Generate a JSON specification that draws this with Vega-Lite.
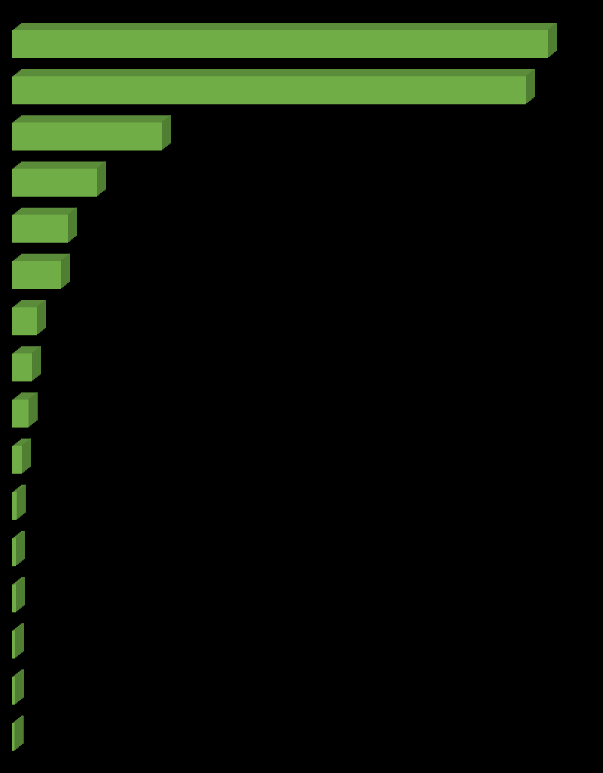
{
  "$schema": "https://vega.github.io/schema/vega-lite/v6.json",
  "width": 591,
  "height": 739,
  "autosize": {"type": "none"},
  "padding": {"top": 21, "left": 12, "right": 0, "bottom": 13},
  "background": "#000000",
  "config": {"view": {"stroke": null}},
  "data": {"values": [
    {"cat": "A", "v": 536},
    {"cat": "B", "v": 514},
    {"cat": "C", "v": 150},
    {"cat": "D", "v": 85},
    {"cat": "E", "v": 56},
    {"cat": "F", "v": 49},
    {"cat": "G", "v": 25},
    {"cat": "H", "v": 20},
    {"cat": "I", "v": 16.5},
    {"cat": "J", "v": 10},
    {"cat": "K", "v": 4.7},
    {"cat": "L", "v": 4},
    {"cat": "M", "v": 4},
    {"cat": "N", "v": 3},
    {"cat": "O", "v": 3},
    {"cat": "P", "v": 2.5}
  ]},
  "encoding": {
    "y": {"field": "cat", "type": "nominal", "sort": null, "axis": null,
          "scale": {"paddingInner": 0.394, "paddingOuter": 0.197}}
  },
  "layer": [
    {"mark": {"type": "bar", "color": "#5B8C3A", "xOffset": 9, "x2Offset": 9, "yOffset": -7.2, "y2Offset": -7.2},
     "encoding": {"x": {"field": "v", "type": "quantitative", "axis": null, "scale": {"domain": [0, 591], "nice": false, "zero": true}}, "x2": {"datum": 0}}},
    {"mark": {"type": "bar", "color": "#5B8C3A", "xOffset": 7.5, "x2Offset": 7.5, "yOffset": -6, "y2Offset": -6},
     "encoding": {"x": {"field": "v", "type": "quantitative"}, "x2": {"datum": 0}}},
    {"mark": {"type": "bar", "color": "#5B8C3A", "xOffset": 6, "x2Offset": 6, "yOffset": -4.8, "y2Offset": -4.8},
     "encoding": {"x": {"field": "v", "type": "quantitative"}, "x2": {"datum": 0}}},
    {"mark": {"type": "bar", "color": "#5B8C3A", "xOffset": 4.5, "x2Offset": 4.5, "yOffset": -3.6, "y2Offset": -3.6},
     "encoding": {"x": {"field": "v", "type": "quantitative"}, "x2": {"datum": 0}}},
    {"mark": {"type": "bar", "color": "#5B8C3A", "xOffset": 3, "x2Offset": 3, "yOffset": -2.4, "y2Offset": -2.4},
     "encoding": {"x": {"field": "v", "type": "quantitative"}, "x2": {"datum": 0}}},
    {"mark": {"type": "bar", "color": "#5B8C3A", "xOffset": 1.5, "x2Offset": 1.5, "yOffset": -1.2, "y2Offset": -1.2},
     "encoding": {"x": {"field": "v", "type": "quantitative"}, "x2": {"datum": 0}}},
    {"mark": {"type": "bar", "color": "#4F7D31", "xOffset": 0, "x2Offset": 1.5, "yOffset": -1.2, "y2Offset": -1.2},
     "encoding": {"x": {"field": "v", "type": "quantitative"}, "x2": {"field": "v"}}},
    {"mark": {"type": "bar", "color": "#4F7D31", "xOffset": 1.5, "x2Offset": 3, "yOffset": -2.4, "y2Offset": -2.4},
     "encoding": {"x": {"field": "v", "type": "quantitative"}, "x2": {"field": "v"}}},
    {"mark": {"type": "bar", "color": "#4F7D31", "xOffset": 3, "x2Offset": 4.5, "yOffset": -3.6, "y2Offset": -3.6},
     "encoding": {"x": {"field": "v", "type": "quantitative"}, "x2": {"field": "v"}}},
    {"mark": {"type": "bar", "color": "#4F7D31", "xOffset": 4.5, "x2Offset": 6, "yOffset": -4.8, "y2Offset": -4.8},
     "encoding": {"x": {"field": "v", "type": "quantitative"}, "x2": {"field": "v"}}},
    {"mark": {"type": "bar", "color": "#4F7D31", "xOffset": 6, "x2Offset": 7.5, "yOffset": -6, "y2Offset": -6},
     "encoding": {"x": {"field": "v", "type": "quantitative"}, "x2": {"field": "v"}}},
    {"mark": {"type": "bar", "color": "#4F7D31", "xOffset": 7.5, "x2Offset": 9, "yOffset": -7.2, "y2Offset": -7.2},
     "encoding": {"x": {"field": "v", "type": "quantitative"}, "x2": {"field": "v"}}},
    {"mark": {"type": "bar", "color": "#70AD47"},
     "encoding": {"x": {"field": "v", "type": "quantitative"}, "x2": {"datum": 0}}}
  ]
}
